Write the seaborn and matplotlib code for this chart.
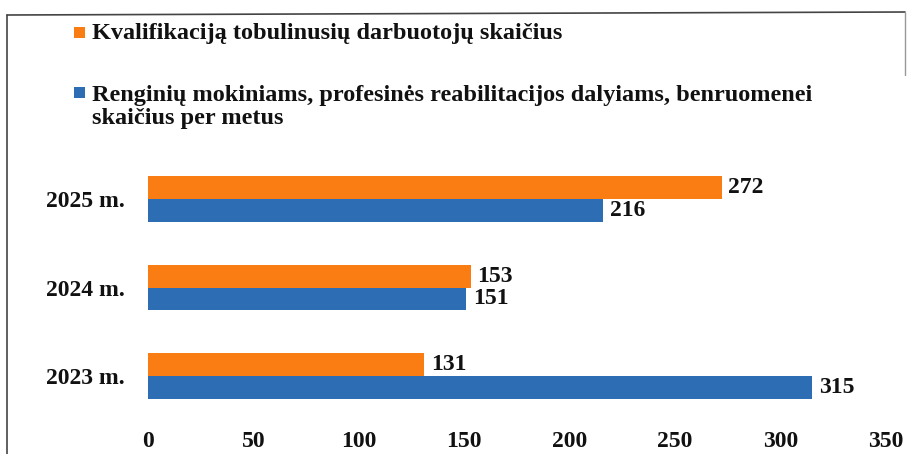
import matplotlib
matplotlib.use("Agg")
import matplotlib.pyplot as plt
import seaborn as sns
import pandas as pd
from matplotlib.lines import Line2D
from matplotlib.patches import Rectangle

categories = ["2025 m.", "2024 m.", "2023 m."]
series_names = [
    "Kvalifikaciją tobulinusių darbuotojų skaičius",
    "Renginių mokiniams, profesinės reabilitacijos dalyiams, benruomenei\nskaičius per metus",
]
qualified = [272, 153, 131]
events = [216, 151, 315]
x_ticks = [0, 50, 100, 150, 200, 250, 300, 350]
colors = ["#FA7D14", "#2C6DB4"]

rows = []
for c, v in zip(categories, qualified):
    rows.append({"year": c, "value": v, "series": series_names[0]})
for c, v in zip(categories, events):
    rows.append({"year": c, "value": v, "series": series_names[1]})
df = pd.DataFrame(rows)

sns.set_theme(style="white")
plt.rcParams["font.family"] = ["Liberation Serif", "DejaVu Serif"]
plt.rcParams["font.weight"] = "bold"

W, H = 907, 454
fig = plt.figure(figsize=(W / 100, H / 100), dpi=100)
ax = fig.add_axes([148 / W, 1 - 420 / H, (886 - 148) / W, (420 - 155) / H])

sns.barplot(data=df, y="year", x="value", hue="series", order=categories,
            hue_order=series_names, palette=colors, orient="h", width=0.52,
            saturation=1, linewidth=0, ax=ax, legend=False)

for cont in ax.containers:
    ax.bar_label(cont, fmt="%d", padding=5, fontsize=17, fontweight="bold", color="#111111")

ax.set_xlim(0, 350)
ax.set_ylim(2.5, -0.5)
ax.set_xticks(x_ticks)
ax.set_xticklabels([str(t) for t in x_ticks], fontsize=17, fontweight="bold", color="#111111")
ax.tick_params(axis="x", length=0, pad=8)
ax.tick_params(axis="y", length=0, pad=17, labelsize=17)
for lab in ax.get_yticklabels():
    lab.set_fontweight("bold")
    lab.set_color("#111111")
ax.set_xlabel("")
ax.set_ylabel("")
for s in ax.spines.values():
    s.set_visible(False)
ax.grid(False)

# legend (manual, top-left)
legend_rows = [(27, 23), (87, 85)]  # (square top px, text top px)
for (sq_top, txt_top), name, col in zip(legend_rows, series_names, colors):
    fig.add_artist(Rectangle((74 / W, 1 - (sq_top + 11) / H), 11 / W, 11 / H,
                             transform=fig.transFigure, facecolor=col, edgecolor="none"))
    fig.text(92 / W, 1 - txt_top / H, name, ha="left", va="top", fontsize=17.5,
             fontweight="bold", color="#111111", linespacing=1.15)

# scanned frame
fig.add_artist(Line2D([7 / W, 7 / W], [0, 1 - 15 / H], color="#444444", lw=1.2))
fig.add_artist(Line2D([7 / W, 905 / W], [1 - 15 / H, 1 - 12 / H], color="#444444", lw=1.2))
fig.add_artist(Line2D([905 / W, 905 / W], [1 - 12 / H, 1 - 75 / H], color="#999999", lw=1.0))

fig.savefig("out.png", dpi=100)
